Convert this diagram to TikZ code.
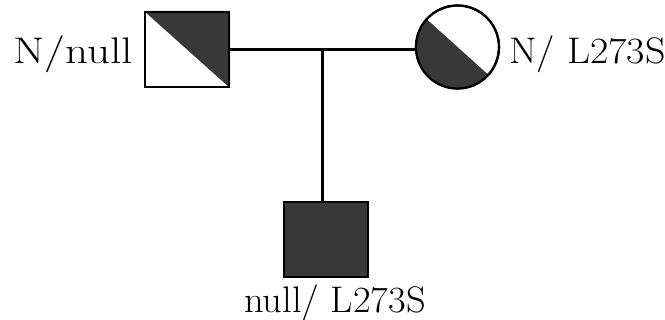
\documentclass[tikz,border=0pt]{standalone}
\begin{document}
\begin{tikzpicture}[x=1pt,y=-1pt,
  line width=2.2pt,
  affected/.style={fill=black!78},
  male/.style={draw,rectangle,minimum width=84pt,minimum height=75pt,inner sep=0pt},
  female/.style={draw,circle,minimum size=83pt,inner sep=0pt},
  genotype/.style={inner sep=0pt,anchor=base west,font=\fontsize{37}{44}\selectfont}]
\useasboundingbox (0,0) rectangle (665,320);

% parents
\node[male] (father) at (187,49.5) {};
\fill[affected] (father.north west) -- (father.north east) -- (father.south east) -- cycle;
\node[male] at (father) {};

\node[female] (mother) at (457.5,47) {};
\fill[affected] (mother.center) ++(42:41.5) arc[start angle=42,end angle=222,radius=41.5] -- cycle;
\node[female] at (mother) {};

% child
\node[male,affected] (child) at (326,239.5) {};

% mating line and line of descent
\draw (father.east) -- (father.east -| mother.west);
\coordinate (mid) at (322.5,49.5);
\draw (mid) -- (mid |- child.north);

% genotypes
\node[genotype] (gf) at (12,64) {\scalebox{1.22}[1]{N/null}};
\node[genotype] (gm) at (508,64) {\scalebox{1.08}[1]{N/ L273S}};
\node[genotype] (gc) at (243,313) {\scalebox{1.04}[1]{null/ L273S}};
\end{tikzpicture}
\end{document}
